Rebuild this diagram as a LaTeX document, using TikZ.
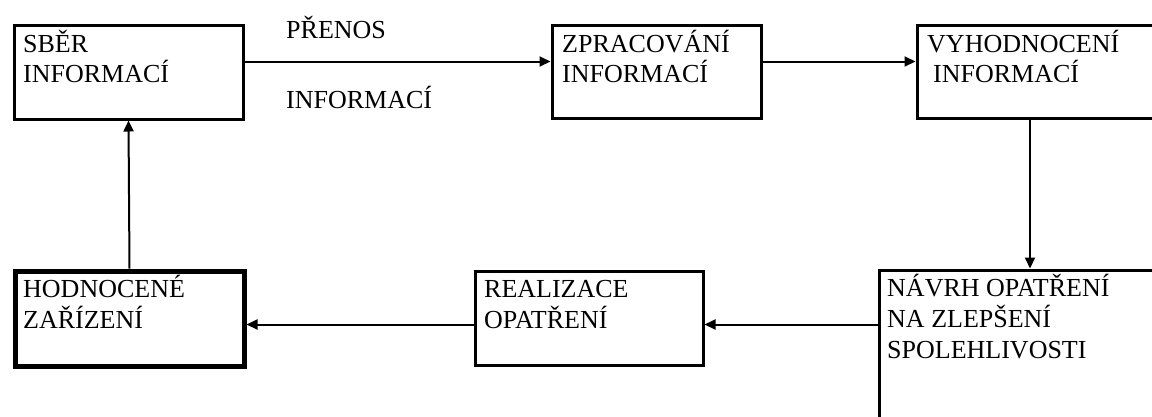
\documentclass[tikz,border=0pt]{standalone}
\usepackage{fontspec}
\setmainfont{Liberation Serif}
\usetikzlibrary{arrows.meta}
\tikzset{
  box/.style={draw=black, line width=3pt, rectangle, inner sep=0pt, anchor=north west},
  thickbox/.style={box, line width=5pt},
  conn/.style={draw=black, line width=2pt, -{Triangle[length=11pt,width=10pt]}},
  txt/.style={anchor=base west, inner sep=0pt, align=left, font=\fontsize{26}{30}\selectfont},
  txtb/.style={txt, font=\fontsize{26}{31}\selectfont}
}
\begin{document}
\begin{tikzpicture}[x=1pt,y=-1pt]
\clip (0,0) rectangle (1152,416);
\fill[white] (0,0) rectangle (1152,416);
% boxes
\node[box, minimum width=229pt, minimum height=94pt] (sber) at (12.5,23.5) {};
\node[box, minimum width=209pt, minimum height=93pt] (zprac) at (550.5,23.5) {};
\node[box, minimum width=260pt, minimum height=93pt] (vyh) at (915.5,23.5) {};
\node[box, minimum width=300pt, minimum height=170pt] (navrh) at (877.5,268.5) {};
\node[box, minimum width=228pt, minimum height=94pt] (real) at (473.5,269.5) {};
\node[thickbox, minimum width=229pt, minimum height=95pt] (hodn) at (12.5,268.5) {};
% texts (anchor = baseline of the last line)
\node[txt] (tsber) at (23,82) {SBĚR\\INFORMACÍ};
\node[txt] (tzprac) at (562,82) {ZPRACOVÁNÍ\\INFORMACÍ};
\node[txt] (tvyh) at (927,82) {VYHODNOCENÍ\\\hspace*{6pt}INFORMACÍ};
\node[txtb] (tnavrh) at (887,358) {NÁVRH OPATŘENÍ\\NA ZLEPŠENÍ\\SPOLEHLIVOSTI};
\node[txtb] (treal) at (484,328) {REALIZACE\\OPATŘENÍ};
\node[txtb] (thodn) at (23,328) {HODNOCENÉ\\ZAŘÍZENÍ};
\node[txt] (l1) at (286,38) {PŘENOS};
\node[txt] (l2) at (286,108) {INFORMACÍ};
% connectors
\draw[conn] ([yshift=10.5pt]sber.east) -- ([yshift=10pt]zprac.west);
\draw[conn] ([yshift=10pt]zprac.east) -- ([yshift=10pt]vyh.west);
\draw[conn] ([xshift=114.5pt]vyh.south west) -- ([xshift=114.5pt]vyh.south west |- navrh.north);
\draw[conn] ([yshift=-6.5pt]real.east -| navrh.west) -- ([yshift=-6.5pt]real.east);
\draw[conn] ([yshift=-6.5pt]real.west) -- ([yshift=-6.5pt]real.west -| hodn.east);
\draw[conn] (hodn.north) -- (sber.south);
\end{tikzpicture}
\end{document}
